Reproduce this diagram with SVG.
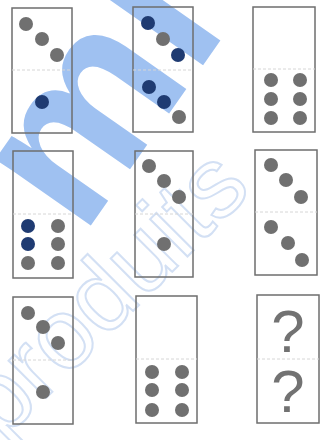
<svg xmlns="http://www.w3.org/2000/svg" width="330" height="440" viewBox="0 0 330 440">
<style>
.dom{fill:none;stroke:#6e6e6e;stroke-width:1.5}
.div{stroke:#d6d6d6;stroke-width:1;stroke-dasharray:3 2}
.g{fill:#707070}
.b{fill:#1f3b72}
.q{font-family:"Liberation Sans",Arial,sans-serif;font-size:60px;fill:#727272;text-anchor:middle}
.wm{font-family:"Liberation Sans",Arial,sans-serif;font-weight:bold;fill:#9fc1f1}
.wm2{font-family:"Liberation Sans",Arial,sans-serif;fill:none;stroke:#d3e0f4;stroke-width:2}
</style>
<rect width="330" height="440" fill="#ffffff"/>
<g id="watermark">
<text class="wm" font-size="220" transform="translate(82 238) rotate(-55)">mi</text>
<text class="wm2" font-size="100" transform="translate(2 442) rotate(-45)">produits</text>
</g>
<g id="d1">
<rect class="dom" x="12" y="8" width="60" height="125"/>
<line class="div" x1="12" y1="70" x2="72" y2="70"/>
<circle class="g" cx="26" cy="24" r="7"/><circle class="g" cx="42" cy="39" r="7"/><circle class="g" cx="57" cy="55" r="7"/>
<circle class="b" cx="42" cy="102" r="7"/>
</g>
<g id="d2">
<rect class="dom" x="133" y="7" width="60" height="125"/>
<line class="div" x1="133" y1="70" x2="193" y2="70"/>
<circle class="b" cx="148" cy="23" r="7"/><circle class="g" cx="163" cy="39" r="7"/><circle class="b" cx="178" cy="55" r="7"/>
<circle class="b" cx="149" cy="87" r="7"/><circle class="b" cx="164" cy="102" r="7"/><circle class="g" cx="179" cy="117" r="7"/>
</g>
<g id="d3">
<rect class="dom" x="253" y="7" width="62" height="125"/>
<line class="div" x1="253" y1="69" x2="315" y2="69"/>
<circle class="g" cx="271" cy="80" r="7"/><circle class="g" cx="300" cy="80" r="7"/>
<circle class="g" cx="271" cy="99" r="7"/><circle class="g" cx="300" cy="99" r="7"/>
<circle class="g" cx="271" cy="118" r="7"/><circle class="g" cx="300" cy="118" r="7"/>
</g>
<g id="d4">
<rect class="dom" x="13" y="151" width="60" height="127"/>
<line class="div" x1="13" y1="214" x2="73" y2="214"/>
<circle class="b" cx="28" cy="226" r="7"/><circle class="g" cx="58" cy="226" r="7"/>
<circle class="b" cx="28" cy="244" r="7"/><circle class="g" cx="58" cy="244" r="7"/>
<circle class="g" cx="28" cy="263" r="7"/><circle class="g" cx="58" cy="263" r="7"/>
</g>
<g id="d5">
<rect class="dom" x="135" y="151" width="58" height="126"/>
<line class="div" x1="135" y1="214" x2="193" y2="214"/>
<circle class="g" cx="149" cy="166" r="7"/><circle class="g" cx="164" cy="181" r="7"/><circle class="g" cx="179" cy="197" r="7"/>
<circle class="g" cx="164" cy="244" r="7"/>
</g>
<g id="d6">
<rect class="dom" x="255" y="150" width="62" height="125"/>
<line class="div" x1="255" y1="212" x2="317" y2="212"/>
<circle class="g" cx="271" cy="165" r="7"/><circle class="g" cx="286" cy="180" r="7"/><circle class="g" cx="301" cy="197" r="7"/>
<circle class="g" cx="271" cy="227" r="7"/><circle class="g" cx="288" cy="243" r="7"/><circle class="g" cx="302" cy="260" r="7"/>
</g>
<g id="d7">
<rect class="dom" x="13" y="297" width="60" height="127"/>
<line class="div" x1="13" y1="360" x2="73" y2="360"/>
<circle class="g" cx="28" cy="313" r="7"/><circle class="g" cx="43" cy="327" r="7"/><circle class="g" cx="58" cy="343" r="7"/>
<circle class="g" cx="43" cy="392" r="7"/>
</g>
<g id="d8">
<rect class="dom" x="136" y="296" width="61" height="127"/>
<line class="div" x1="136" y1="359" x2="197" y2="359"/>
<circle class="g" cx="152" cy="372" r="7"/><circle class="g" cx="182" cy="372" r="7"/>
<circle class="g" cx="152" cy="390" r="7"/><circle class="g" cx="182" cy="390" r="7"/>
<circle class="g" cx="152" cy="410" r="7"/><circle class="g" cx="182" cy="410" r="7"/>
</g>
<g id="d9">
<rect class="dom" x="257" y="295" width="62" height="128"/>
<line class="div" x1="257" y1="359" x2="319" y2="359"/>
<text class="q" x="288" y="352">?</text>
<text class="q" x="288" y="412">?</text>
</g>
</svg>
